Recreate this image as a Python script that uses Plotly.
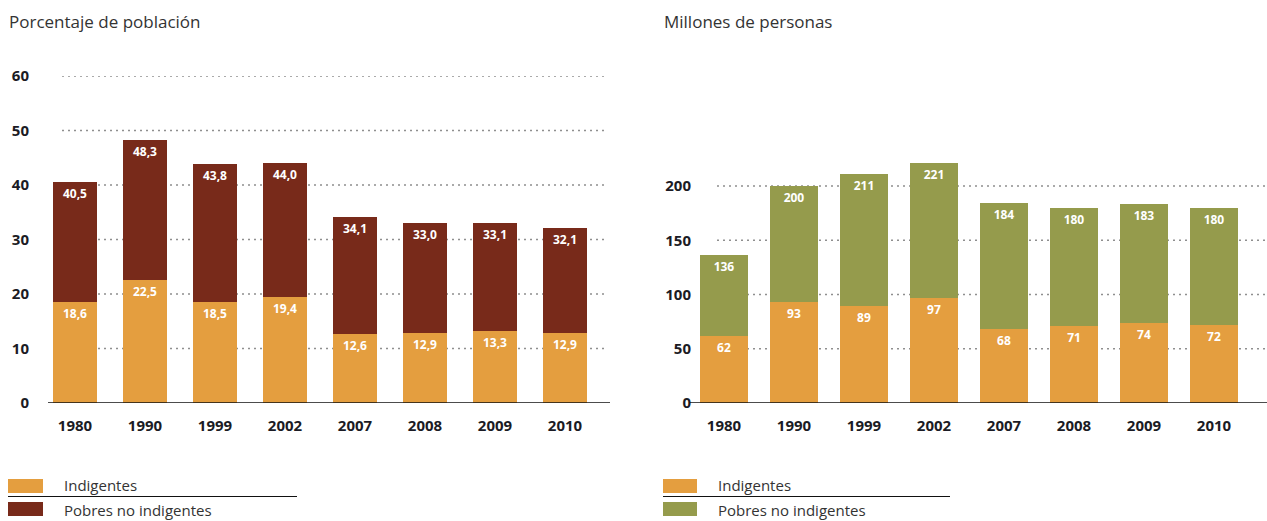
import plotly.graph_objects as go

years = ["1980", "1990", "1999", "2002", "2007", "2008", "2009", "2010"]
pct_indigentes = [18.6, 22.5, 18.5, 19.4, 12.6, 12.9, 13.3, 12.9]
pct_total_pobres = [40.5, 48.3, 43.8, 44.0, 34.1, 33.0, 33.1, 32.1]
mill_indigentes = [62, 93, 89, 97, 68, 71, 74, 72]
mill_total_pobres = [136, 200, 211, 221, 184, 180, 183, 180]
pct_ticks = [0, 10, 20, 30, 40, 50, 60]
mill_ticks = [0, 50, 100, 150, 200]

ORANGE = "#E49E3F"
BROWN = "#782A1A"
OLIVE = "#959B4C"
W, H = 1267, 521
FONT = "Open Sans"

def fmt1(v):
    return f"{v:.1f}".replace(".", ",")

pct_no_ind = [round(t - i, 1) for t, i in zip(pct_total_pobres, pct_indigentes)]
mill_no_ind = [t - i for t, i in zip(mill_total_pobres, mill_indigentes)]

fig = go.Figure()
lbl = dict(color="white", size=12, family=FONT)
common = dict(textposition="inside", insidetextanchor="end", constraintext="none",
              textangle=0, hoverinfo="skip", marker_line_width=0, showlegend=False)

fig.add_trace(go.Bar(x=years, y=pct_indigentes, marker_color=ORANGE, width=0.64,
                     text=[f"<b>{fmt1(v)}</b>" for v in pct_indigentes], insidetextfont=lbl,
                     xaxis="x", yaxis="y", **common))
fig.add_trace(go.Bar(x=years, y=pct_no_ind, marker_color=BROWN, width=0.64,
                     text=[f"<b>{fmt1(v)}</b>" for v in pct_total_pobres], insidetextfont=lbl,
                     xaxis="x", yaxis="y", **common))
fig.add_trace(go.Bar(x=years, y=mill_indigentes, marker_color=ORANGE, width=0.69,
                     text=[f"<b>{v}</b>" for v in mill_indigentes], insidetextfont=lbl,
                     xaxis="x2", yaxis="y2", **common))
fig.add_trace(go.Bar(x=years, y=mill_no_ind, marker_color=OLIVE, width=0.69,
                     text=[f"<b>{v}</b>" for v in mill_total_pobres], insidetextfont=lbl,
                     xaxis="x2", yaxis="y2", **common))

def px(x):
    return x / W

def py(y):
    return 1 - y / H

ydom = [py(403), py(76)]
mill_max = (403 - 76) / ((403 - 186) / 200)

tickfont = dict(family=FONT, size=15, color="#1b1b24", weight="bold")
fig.update_layout(
    width=W, height=H, autosize=False,
    margin=dict(l=0, r=0, t=0, b=0, pad=0, autoexpand=False),
    plot_bgcolor="white", paper_bgcolor="white", barmode="stack",
    font=dict(family=FONT),
    xaxis=dict(domain=[px(40), px(600)], type="category", showgrid=False, showline=False,
               zeroline=False, tickfont=tickfont, ticks="", ticklabelstandoff=12),
    yaxis=dict(domain=ydom, range=[0, 60], tickvals=pct_ticks, showgrid=False, zeroline=False,
               showline=False, anchor="free", position=px(29), tickfont=tickfont, ticks=""),
    xaxis2=dict(domain=[px(689), px(1249)], type="category", showgrid=False, showline=False,
                zeroline=False, tickfont=tickfont, ticks="", ticklabelstandoff=12, anchor="y2"),
    yaxis2=dict(domain=ydom, range=[0, mill_max], tickvals=mill_ticks, showgrid=False,
                zeroline=False, showline=False, anchor="free", position=px(691),
                tickfont=tickfont, ticks=""),
)

shapes = []
grid_line = dict(color="#8f8f8f", width=1.3, dash="2px,4px")
for t in pct_ticks[1:]:
    shapes.append(dict(type="line", xref="paper", yref="y", x0=px(62), x1=px(608), y0=t, y1=t,
                       line=grid_line, layer="below"))
for t in mill_ticks[1:]:
    shapes.append(dict(type="line", xref="paper", yref="y2", x0=px(717), x1=px(1265), y0=t, y1=t,
                       line=grid_line, layer="below"))
shapes.append(dict(type="line", xref="paper", yref="y", x0=px(48), x1=px(610), y0=0, y1=0,
                   line=dict(color="#111", width=1.5)))
shapes.append(dict(type="line", xref="paper", yref="y2", x0=px(690), x1=px(1267), y0=0, y1=0,
                   line=dict(color="#111", width=1.5)))

annotations = [
    dict(text="Porcentaje de población", x=px(7), y=py(22), xref="paper", yref="paper",
         xanchor="left", yanchor="middle", showarrow=False,
         font=dict(family=FONT, size=17, color="#333")),
    dict(text="Millones de personas", x=px(662), y=py(22), xref="paper", yref="paper",
         xanchor="left", yanchor="middle", showarrow=False,
         font=dict(family=FONT, size=17, color="#333")),
]

for x0, x1, tx, lx1, col2 in [(8, 43, 62, 297, BROWN), (663, 697, 716, 950, OLIVE)]:
    shapes.append(dict(type="rect", xref="paper", yref="paper", x0=px(x0), x1=px(x1),
                       y0=py(493), y1=py(479), fillcolor=ORANGE, line_width=0))
    shapes.append(dict(type="rect", xref="paper", yref="paper", x0=px(x0), x1=px(x1),
                       y0=py(516), y1=py(502), fillcolor=col2, line_width=0))
    shapes.append(dict(type="line", xref="paper", yref="paper", x0=px(x0), x1=px(lx1),
                       y0=py(496.5), y1=py(496.5), line=dict(color="#111", width=1.2)))
    annotations.append(dict(text="Indigentes", x=px(tx), y=py(485), xref="paper", yref="paper",
                            xanchor="left", yanchor="middle", showarrow=False,
                            font=dict(family=FONT, size=15, color="#333")))
    annotations.append(dict(text="Pobres no indigentes", x=px(tx), y=py(510), xref="paper",
                            yref="paper", xanchor="left", yanchor="middle", showarrow=False,
                            font=dict(family=FONT, size=15, color="#333")))

fig.update_layout(shapes=shapes, annotations=annotations)

fig.write_html("out.html", config={"displayModeBar": False, "responsive": False},
               post_script="document.body.style.margin='0';document.body.style.overflow='hidden';")
